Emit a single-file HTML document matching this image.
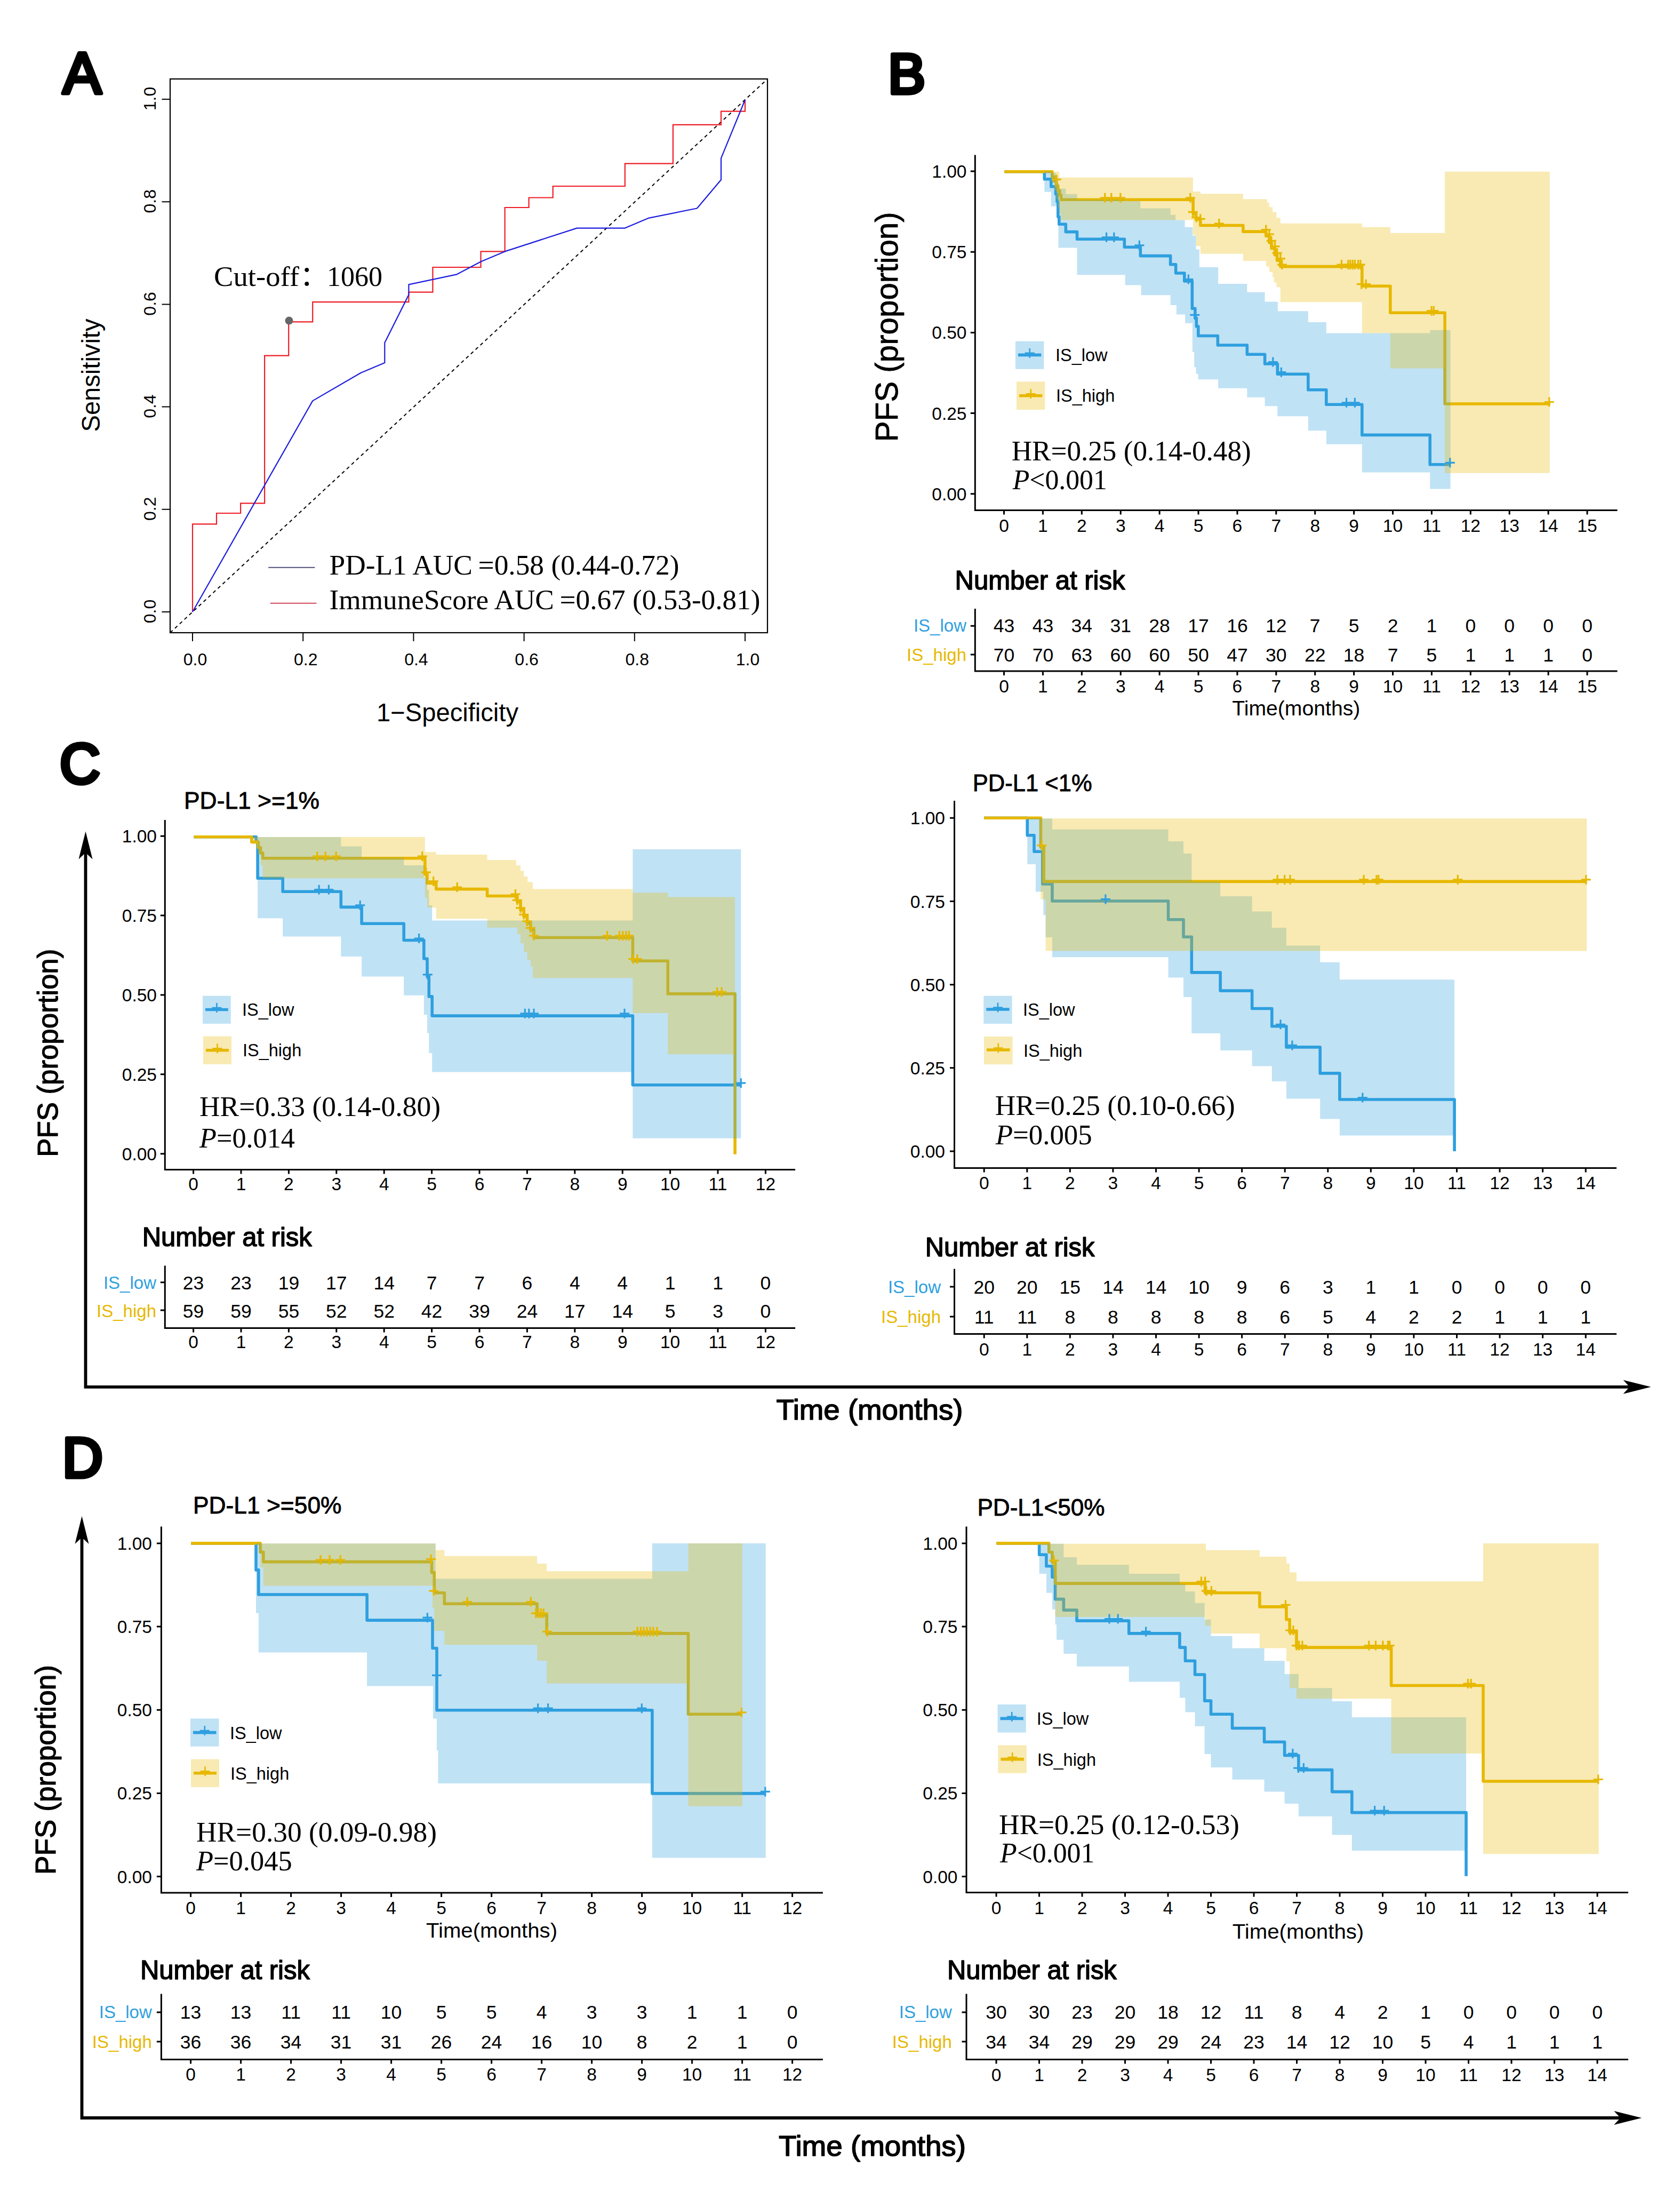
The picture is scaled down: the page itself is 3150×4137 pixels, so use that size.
<!DOCTYPE html>
<html><head><meta charset="utf-8"><title>Figure</title>
<style>html,body{margin:0;padding:0;background:#fff}svg{display:block}</style></head>
<body>
<svg width="3150" height="4137" viewBox="0 0 3150 4137" font-family='"Liberation Sans", sans-serif' fill="#000">
<rect width="3150" height="4137" fill="#fff"/>
<text x="117.5" y="175" font-size="109" stroke="#000" stroke-width="7" stroke-linejoin="round">A</text>
<text x="1665" y="174.5" font-size="105" stroke="#000" stroke-width="7.5" stroke-linejoin="round">B</text>
<text x="112" y="1468" font-size="105" stroke="#000" stroke-width="7.5" stroke-linejoin="round">C</text>
<text x="117" y="2768.5" font-size="105" stroke="#000" stroke-width="7.5" stroke-linejoin="round">D</text>
<rect x="319" y="148" width="1120" height="1038" fill="none" stroke="#000" stroke-width="2.2"/>
<path d="M361 1186v16M319 1147h-15.5M568.2 1186v16M319 954.8h-15.5M775.4 1186v16M319 762.6h-15.5M982.6 1186v16M319 570.4h-15.5M1189.8 1186v16M319 378.2h-15.5M1397 1186v16M319 186h-15.5" stroke="#000" stroke-width="2" fill="none"/>
<text x="366" y="1247" font-size="32" text-anchor="middle">0.0</text>
<text x="292" y="1146" font-size="32" text-anchor="middle" transform="rotate(-90 292 1146)">0.0</text>
<text x="573.2" y="1247" font-size="32" text-anchor="middle">0.2</text>
<text x="292" y="953.8" font-size="32" text-anchor="middle" transform="rotate(-90 292 953.8)">0.2</text>
<text x="780.4" y="1247" font-size="32" text-anchor="middle">0.4</text>
<text x="292" y="761.6" font-size="32" text-anchor="middle" transform="rotate(-90 292 761.6)">0.4</text>
<text x="987.6" y="1247" font-size="32" text-anchor="middle">0.6</text>
<text x="292" y="569.4" font-size="32" text-anchor="middle" transform="rotate(-90 292 569.4)">0.6</text>
<text x="1194.8" y="1247" font-size="32" text-anchor="middle">0.8</text>
<text x="292" y="377.2" font-size="32" text-anchor="middle" transform="rotate(-90 292 377.2)">0.8</text>
<text x="1402" y="1247" font-size="32" text-anchor="middle">1.0</text>
<text x="292" y="185" font-size="32" text-anchor="middle" transform="rotate(-90 292 185)">1.0</text>
<path d="M319 1186L1439 148" stroke="#000" stroke-width="2" stroke-dasharray="6.3 5.9" fill="none"/>
<path d="M361 1147H361V982.4H406V962H451.1V943.3H496.1V666.7H541.2V603.3H586.2V566.2H766.4V547.6H811.4V501H901.5V471.4H946.6V389H991.6V370.5H1036.7V349H1171.8V306.7H1261.9V233.8H1352V208.6H1397V187" stroke="#EE1C25" stroke-width="2.2" fill="none"/>
<path d="M361 1147L586.2 751.4L676.3 699L721.3 680L721.3 642.4L766.4 552.4L766.4 533.3L856.5 514.3L901.5 490.5L946.6 471.4L1081.7 427.6L1171.8 427.6L1216.8 408.6L1306.9 390.5L1352 337L1352 296.7L1397 187" stroke="#1C1CE0" stroke-width="2.2" fill="none" stroke-linejoin="round"/>
<circle cx="542" cy="601" r="7.5" fill="#666"/>
<text y="536" font-size="53" font-family='"Liberation Serif", "Noto Sans CJK SC", serif'><tspan x="401" textLength="160" lengthAdjust="spacingAndGlyphs">Cut-off</tspan><tspan x="562">：</tspan><tspan x="613" textLength="104" lengthAdjust="spacingAndGlyphs">1060</tspan></text>
<path d="M503.2 1063.8L590.4 1063.8" stroke="#50507A" stroke-width="1.9" fill="none"/>
<path d="M506.8 1130.7L593.4 1130.7" stroke="#D0485A" stroke-width="1.9" fill="none"/>
<text x="617.5" y="1077" font-size="53.5" font-family='"Liberation Serif", serif' textLength="656" lengthAdjust="spacingAndGlyphs">PD-L1 AUC =0.58 (0.44-0.72)</text>
<text x="617.5" y="1141.7" font-size="53.5" font-family='"Liberation Serif", serif' textLength="808" lengthAdjust="spacingAndGlyphs">ImmuneScore AUC =0.67 (0.53-0.81)</text>
<text x="839" y="1352" font-size="47.5" text-anchor="middle" textLength="266" lengthAdjust="spacingAndGlyphs">1−Specificity</text>
<text x="187" y="703.5" font-size="47.5" text-anchor="middle" textLength="212" lengthAdjust="spacingAndGlyphs" transform="rotate(-90 187 703.5)">Sensitivity</text>
<path d="M1883.3 321.8H1958.3V335.8H1970.8V349.8H1979.5V363.8H1982V378.1H1983.8V406.2H1985.8V420.3H1998.3V434.6H2019.5V448.3H2108.3V463.3H2138.3V479.6H2194.6V495.8H2204.6V512H2220.8V527H2235.3V578.3H2240.8V595.8H2243.3V611.8H2246.8V629.5H2283.3V647H2338.3V664.3H2371.6V682H2395.3V701.2H2452.8V730.8H2486.8V758.3H2553.8V815.4H2681.2V870.8H2719.6V870.8" stroke="#2E9FDF" stroke-width="5.6" fill="none" stroke-linejoin="round"/>
<path d="M1883.3 321.8H1972.8V331.3H1976.8V339.8H1980.8V348.8H1983.8V357.3H1986.8V365.8H1989.5V374.3H2237.1V400.8H2242.5V411.2H2250.8V422.5H2330.8V434.1H2373.8V442.5H2380V455H2384.1V465.4H2390.4V477.8H2394.6V488.3H2400.8V499.6H2553.8V536.2H2606.8V586.2H2709.1V757H2906.8V757" stroke="#E7B800" stroke-width="5.6" fill="none" stroke-linejoin="round"/>
<path d="M1958.3 321.8H1970.8V323.8H1979.5V330.8H1983.8V343.4H1985.8V353.5H1998.3V363.8H2019.5V374.3H2108.3V376.8H2138.3V390.4H2194.6V402.8H2204.1V412.5H2221.6V425.8H2236.2V441.8H2242.5V467.5H2248.8V500.8H2284.1V532H2338.3V547.8H2371.6V565.4H2395.8V583.3H2452.8V604.1H2486.8V624.5H2681.2V618.8H2719.6V618.8V916.6V916.6H2681.2V885.4H2553.8V832.8H2486.8V807.3H2452.8V780.3H2395.3V761.2H2371.6V744.8H2338.3V727.8H2284.1V711.2H2246.6V700.8H2242.5V688.3H2239.1V659.8H2235.8V605.8H2222.1V589.5H2205.8V572H2194.6V553.3H2139.6V534.5H2109.6V515.3H2019.5V464.6H1984.5V386.8H1970.8V359.8H1958.3V321.8H1958.3Z" fill="#2E9FDF" fill-opacity="0.3"/>
<path d="M1972.8 321.8H1986.2V332.8H2236.8V359.1H2250.8V363.3H2330.8V373.3H2375.8V379.8H2379.8V388.3H2386.2V397.5H2393.3V408.3H2400.8V418.8H2553.8V425.8H2606.8V436.8H2709.1V321.8H2905.8V321.8V886.8V886.8H2709.1V690.4H2606.8V624.5H2553.8V566.2H2400.8V538.3H2393.3V529.8H2388.8V519.8H2386.2V509.8H2379.8V499.6H2373.8V489.1H2330.8V475.8H2250.8V461.2H2242.5V440.4H2236.8V412.5H1989.5V400.8H1986.8V388.8H1983.8V372.8H1980.8V356.8H1976.8V340.8H1972.8V321.8H1972.8Z" fill="#E7B800" fill-opacity="0.3"/>
<path d="M2065.6 444.8h18M2074.6 435.8v18" stroke="#2E9FDF" stroke-width="3.2" fill="none"/>
<path d="M2079.8 444.8h18M2088.8 435.8v18" stroke="#2E9FDF" stroke-width="3.2" fill="none"/>
<path d="M2127.3 459.8h18M2136.3 450.8v18" stroke="#2E9FDF" stroke-width="3.2" fill="none"/>
<path d="M2219.3 523.5h18M2228.3 514.5v18" stroke="#2E9FDF" stroke-width="3.2" fill="none"/>
<path d="M2231.3 590.3h18M2240.3 581.3v18" stroke="#2E9FDF" stroke-width="3.2" fill="none"/>
<path d="M2377.8 678.5h18M2386.8 669.5v18" stroke="#2E9FDF" stroke-width="3.2" fill="none"/>
<path d="M2393.3 697.7h18M2402.3 688.7v18" stroke="#2E9FDF" stroke-width="3.2" fill="none"/>
<path d="M2515.6 754.8h18M2524.6 745.8v18" stroke="#2E9FDF" stroke-width="3.2" fill="none"/>
<path d="M2531.4 754.8h18M2540.4 745.8v18" stroke="#2E9FDF" stroke-width="3.2" fill="none"/>
<path d="M2709.8 867.3h18M2718.8 858.3v18" stroke="#2E9FDF" stroke-width="3.2" fill="none"/>
<path d="M1971.8 336.3h18M1980.8 327.3v18" stroke="#E7B800" stroke-width="3.2" fill="none"/>
<path d="M2062.8 370.8h18M2071.8 361.8v18" stroke="#E7B800" stroke-width="3.2" fill="none"/>
<path d="M2074.8 370.8h18M2083.8 361.8v18" stroke="#E7B800" stroke-width="3.2" fill="none"/>
<path d="M2091.8 370.8h18M2100.8 361.8v18" stroke="#E7B800" stroke-width="3.2" fill="none"/>
<path d="M2222.8 370.8h18M2231.8 361.8v18" stroke="#E7B800" stroke-width="3.2" fill="none"/>
<path d="M2227.8 397.3h18M2236.8 388.3v18" stroke="#E7B800" stroke-width="3.2" fill="none"/>
<path d="M2234.3 407.7h18M2243.3 398.7v18" stroke="#E7B800" stroke-width="3.2" fill="none"/>
<path d="M2241.8 410.3h18M2250.8 401.3v18" stroke="#E7B800" stroke-width="3.2" fill="none"/>
<path d="M2276.8 419h18M2285.8 410v18" stroke="#E7B800" stroke-width="3.2" fill="none"/>
<path d="M2364.8 430.6h18M2373.8 421.6v18" stroke="#E7B800" stroke-width="3.2" fill="none"/>
<path d="M2370.8 439h18M2379.8 430v18" stroke="#E7B800" stroke-width="3.2" fill="none"/>
<path d="M2374.8 451.3h18M2383.8 442.3v18" stroke="#E7B800" stroke-width="3.2" fill="none"/>
<path d="M2381.4 461.9h18M2390.4 452.9v18" stroke="#E7B800" stroke-width="3.2" fill="none"/>
<path d="M2385.6 474.3h18M2394.6 465.3v18" stroke="#E7B800" stroke-width="3.2" fill="none"/>
<path d="M2391.8 484.8h18M2400.8 475.8v18" stroke="#E7B800" stroke-width="3.2" fill="none"/>
<path d="M2394.8 496.1h18M2403.8 487.1v18" stroke="#E7B800" stroke-width="3.2" fill="none"/>
<path d="M2506.4 496.1h18M2515.4 487.1v18" stroke="#E7B800" stroke-width="3.2" fill="none"/>
<path d="M2518.8 496.1h18M2527.8 487.1v18" stroke="#E7B800" stroke-width="3.2" fill="none"/>
<path d="M2522.8 496.1h18M2531.8 487.1v18" stroke="#E7B800" stroke-width="3.2" fill="none"/>
<path d="M2527.2 496.1h18M2536.2 487.1v18" stroke="#E7B800" stroke-width="3.2" fill="none"/>
<path d="M2531.4 496.1h18M2540.4 487.1v18" stroke="#E7B800" stroke-width="3.2" fill="none"/>
<path d="M2537.6 496.1h18M2546.6 487.1v18" stroke="#E7B800" stroke-width="3.2" fill="none"/>
<path d="M2541.8 496.1h18M2550.8 487.1v18" stroke="#E7B800" stroke-width="3.2" fill="none"/>
<path d="M2543.8 532.7h18M2552.8 523.7v18" stroke="#E7B800" stroke-width="3.2" fill="none"/>
<path d="M2552.2 532.7h18M2561.2 523.7v18" stroke="#E7B800" stroke-width="3.2" fill="none"/>
<path d="M2675.1 582.7h18M2684.1 573.7v18" stroke="#E7B800" stroke-width="3.2" fill="none"/>
<path d="M2679.3 582.7h18M2688.3 573.7v18" stroke="#E7B800" stroke-width="3.2" fill="none"/>
<path d="M2895.8 753.5h18M2904.8 744.5v18" stroke="#E7B800" stroke-width="3.2" fill="none"/>
<path d="M1828.3 292V956.5H3031" stroke="#000" stroke-width="3" fill="none" stroke-linecap="square"/>
<path d="M1882.5 956.5v8M1955.4 956.5v8M2028.3 956.5v8M2101.2 956.5v8M2174.1 956.5v8M2247 956.5v8M2319.9 956.5v8M2392.8 956.5v8M2465.7 956.5v8M2538.6 956.5v8M2611.5 956.5v8M2684.4 956.5v8M2757.3 956.5v8M2830.2 956.5v8M2903.1 956.5v8M2976 956.5v8M1828.3 925.8h-8.5M1828.3 774.6h-8.5M1828.3 623.4h-8.5M1828.3 472.2h-8.5M1828.3 321h-8.5" stroke="#000" stroke-width="3" fill="none"/>
<g font-size="33.5" text-anchor="middle">
<text x="1882.5" y="996.5">0</text>
<text x="1955.4" y="996.5">1</text>
<text x="2028.3" y="996.5">2</text>
<text x="2101.2" y="996.5">3</text>
<text x="2174.1" y="996.5">4</text>
<text x="2247" y="996.5">5</text>
<text x="2319.9" y="996.5">6</text>
<text x="2392.8" y="996.5">7</text>
<text x="2465.7" y="996.5">8</text>
<text x="2538.6" y="996.5">9</text>
<text x="2611.5" y="996.5">10</text>
<text x="2684.4" y="996.5">11</text>
<text x="2757.3" y="996.5">12</text>
<text x="2830.2" y="996.5">13</text>
<text x="2903.1" y="996.5">14</text>
<text x="2976" y="996.5">15</text>
</g>
<g font-size="33.5" text-anchor="end">
<text x="1812.5" y="937.8">0.00</text>
<text x="1812.5" y="786.6">0.25</text>
<text x="1812.5" y="635.4">0.50</text>
<text x="1812.5" y="484.2">0.75</text>
<text x="1812.5" y="333">1.00</text>
</g>
<rect x="1904" y="639.6" width="53.3" height="52.2" fill="#2E9FDF" fill-opacity="0.3"/>
<path d="M1909 665.4h43.3" stroke="#2E9FDF" stroke-width="5.6" fill="none"/>
<path d="M1921.7 661.9h18M1930.7 652.9v18" stroke="#2E9FDF" stroke-width="2.6" fill="none"/>
<text x="1979" y="677" font-size="32.5">IS_low</text>
<rect x="1906" y="715.4" width="53.3" height="52.6" fill="#E7B800" fill-opacity="0.3"/>
<path d="M1911 741.7h43.3" stroke="#E7B800" stroke-width="5.6" fill="none"/>
<path d="M1923.7 738.2h18M1932.7 729.2v18" stroke="#E7B800" stroke-width="2.6" fill="none"/>
<text x="1980" y="753" font-size="32.5">IS_high</text>
<text x="1896.7" y="862.5" font-size="53" font-family='"Liberation Serif", serif' textLength="449" lengthAdjust="spacingAndGlyphs">HR=0.25 (0.14-0.48)</text>
<text x="1898.8" y="916.7" font-size="53" font-family='"Liberation Serif", serif' textLength="177" lengthAdjust="spacingAndGlyphs"><tspan font-style="italic">P</tspan>&lt;0.001</text>
<text x="2430.3" y="1341" font-size="39.5" text-anchor="middle" textLength="240" lengthAdjust="spacingAndGlyphs">Time(months)</text>
<text x="1790.5" y="1105" font-size="50" textLength="319" lengthAdjust="spacingAndGlyphs" stroke="#000" stroke-width="1.6" stroke-linejoin="round">Number at risk</text>
<path d="M1828.3 1142.4V1258H3031" stroke="#000" stroke-width="3" fill="none" stroke-linecap="square"/>
<path d="M1882.5 1258v8M1955.4 1258v8M2028.3 1258v8M2101.2 1258v8M2174.1 1258v8M2247 1258v8M2319.9 1258v8M2392.8 1258v8M2465.7 1258v8M2538.6 1258v8M2611.5 1258v8M2684.4 1258v8M2757.3 1258v8M2830.2 1258v8M2903.1 1258v8M2976 1258v8M1828.3 1173.3h-8.5M1828.3 1227h-8.5" stroke="#000" stroke-width="3" fill="none"/>
<text x="1812" y="1184" font-size="33" text-anchor="end" fill="#2E9FDF">IS_low</text>
<text x="1812" y="1238.5" font-size="33" text-anchor="end" fill="#E7B800">IS_high</text>
<g font-size="35.5" text-anchor="middle">
<text x="1882.5" y="1185">43</text>
<text x="1955.4" y="1185">43</text>
<text x="2028.3" y="1185">34</text>
<text x="2101.2" y="1185">31</text>
<text x="2174.1" y="1185">28</text>
<text x="2247" y="1185">17</text>
<text x="2319.9" y="1185">16</text>
<text x="2392.8" y="1185">12</text>
<text x="2465.7" y="1185">7</text>
<text x="2538.6" y="1185">5</text>
<text x="2611.5" y="1185">2</text>
<text x="2684.4" y="1185">1</text>
<text x="2757.3" y="1185">0</text>
<text x="2830.2" y="1185">0</text>
<text x="2903.1" y="1185">0</text>
<text x="2976" y="1185">0</text>
<text x="1882.5" y="1239.5">70</text>
<text x="1955.4" y="1239.5">70</text>
<text x="2028.3" y="1239.5">63</text>
<text x="2101.2" y="1239.5">60</text>
<text x="2174.1" y="1239.5">60</text>
<text x="2247" y="1239.5">50</text>
<text x="2319.9" y="1239.5">47</text>
<text x="2392.8" y="1239.5">30</text>
<text x="2465.7" y="1239.5">22</text>
<text x="2538.6" y="1239.5">18</text>
<text x="2611.5" y="1239.5">7</text>
<text x="2684.4" y="1239.5">5</text>
<text x="2757.3" y="1239.5">1</text>
<text x="2830.2" y="1239.5">1</text>
<text x="2903.1" y="1239.5">1</text>
<text x="2976" y="1239.5">0</text>
</g>
<g font-size="33.5" text-anchor="middle">
<text x="1882.5" y="1297.5">0</text>
<text x="1955.4" y="1297.5">1</text>
<text x="2028.3" y="1297.5">2</text>
<text x="2101.2" y="1297.5">3</text>
<text x="2174.1" y="1297.5">4</text>
<text x="2247" y="1297.5">5</text>
<text x="2319.9" y="1297.5">6</text>
<text x="2392.8" y="1297.5">7</text>
<text x="2465.7" y="1297.5">8</text>
<text x="2538.6" y="1297.5">9</text>
<text x="2611.5" y="1297.5">10</text>
<text x="2684.4" y="1297.5">11</text>
<text x="2757.3" y="1297.5">12</text>
<text x="2830.2" y="1297.5">13</text>
<text x="2903.1" y="1297.5">14</text>
<text x="2976" y="1297.5">15</text>
</g>
<text x="1683" y="612.8" font-size="60" text-anchor="middle" textLength="431" lengthAdjust="spacingAndGlyphs" transform="rotate(-90 1683 612.8)" stroke="#000" stroke-width="0.8" stroke-linejoin="round">PFS (proportion)</text>
<path d="M363.5 1568.7H480.2V1578.3H483.1V1646.2H530.2V1671.2H639.3V1700.4H678.1V1731.2H757.2V1762.5H794.8V1797H801V1830.4H804.3V1867.9H810.2V1904.1H1186.4V2033.7H1389.3V2033.7" stroke="#2E9FDF" stroke-width="5.6" fill="none" stroke-linejoin="round"/>
<path d="M363.5 1568.7H471.8V1578.3H484.3V1588.7H488.5V1599.1H492.7V1608.7H796.8V1638.7H801V1655.4H817.7V1666.6H913.5V1679.5H969.8V1690.8H976V1705.4H982.2V1717.9H988.5V1730.4H994.8V1742.9H1001V1757.5H1186.4V1801.2H1252.2V1862.9H1378.1V2163.7" stroke="#E7B800" stroke-width="5.6" fill="none" stroke-linejoin="round"/>
<path d="M480.2 1569.1H639.3V1586.6H678.1V1607.5H757.2V1622H794.8V1645H801V1667.9H804.3V1697H810.2V1725.4H1186.4V1592H1389.3V1592V2133.7V2133.7H1186.4V2009.5H810.2V1974.1H804.3V1936.6H801V1902H794.8V1865.8H757.2V1830.4H678.1V1792.9H639.3V1755.4H530.2V1721.2H483.1V1569.1H483.1Z" fill="#2E9FDF" fill-opacity="0.3"/>
<path d="M471.8 1569.1H796.8V1597H817.7V1602H913.5V1612H967.7V1622H976V1632.5H982.2V1642.9H989.3V1653.3H998.9V1666.6H1186.4V1673.3H1252.2V1681.6H1378.1V1681.6V1976.2V1976.2H1252.2V1899.1H1186.4V1833.3H998.9V1811.6H994.8V1799.1H988.5V1784.5H982.2V1767.9H976V1751.2H969.8V1738.7H913.5V1722H817.7V1701.2H801V1682.5H796.8V1646.2H492.7V1622H488.5V1601.2H484.3V1582.5H471.8V1569.1H471.8Z" fill="#E7B800" fill-opacity="0.3"/>
<path d="M589.1 1667.7h18M598.1 1658.7v18" stroke="#2E9FDF" stroke-width="3.2" fill="none"/>
<path d="M607.4 1667.7h18M616.4 1658.7v18" stroke="#2E9FDF" stroke-width="3.2" fill="none"/>
<path d="M666.2 1696.9h18M675.2 1687.9v18" stroke="#2E9FDF" stroke-width="3.2" fill="none"/>
<path d="M776.6 1759h18M785.6 1750v18" stroke="#2E9FDF" stroke-width="3.2" fill="none"/>
<path d="M792.8 1826.9h18M801.8 1817.9v18" stroke="#2E9FDF" stroke-width="3.2" fill="none"/>
<path d="M975.3 1899.8h18M984.3 1890.8v18" stroke="#2E9FDF" stroke-width="3.2" fill="none"/>
<path d="M982.8 1899.8h18M991.8 1890.8v18" stroke="#2E9FDF" stroke-width="3.2" fill="none"/>
<path d="M992 1899.8h18M1001 1890.8v18" stroke="#2E9FDF" stroke-width="3.2" fill="none"/>
<path d="M1162 1899.8h18M1171 1890.8v18" stroke="#2E9FDF" stroke-width="3.2" fill="none"/>
<path d="M1380.3 2030.2h18M1389.3 2021.2v18" stroke="#2E9FDF" stroke-width="3.2" fill="none"/>
<path d="M585.8 1605.2h18M594.8 1596.2v18" stroke="#E7B800" stroke-width="3.2" fill="none"/>
<path d="M601.2 1605.2h18M610.2 1596.2v18" stroke="#E7B800" stroke-width="3.2" fill="none"/>
<path d="M621.2 1605.2h18M630.2 1596.2v18" stroke="#E7B800" stroke-width="3.2" fill="none"/>
<path d="M782.8 1605.2h18M791.8 1596.2v18" stroke="#E7B800" stroke-width="3.2" fill="none"/>
<path d="M789.9 1635.2h18M798.9 1626.2v18" stroke="#E7B800" stroke-width="3.2" fill="none"/>
<path d="M803.7 1651.9h18M812.7 1642.9v18" stroke="#E7B800" stroke-width="3.2" fill="none"/>
<path d="M848.2 1663.1h18M857.2 1654.1v18" stroke="#E7B800" stroke-width="3.2" fill="none"/>
<path d="M957.4 1676h18M966.4 1667v18" stroke="#E7B800" stroke-width="3.2" fill="none"/>
<path d="M960.8 1687.3h18M969.8 1678.3v18" stroke="#E7B800" stroke-width="3.2" fill="none"/>
<path d="M967 1701.9h18M976 1692.9v18" stroke="#E7B800" stroke-width="3.2" fill="none"/>
<path d="M973.2 1714.4h18M982.2 1705.4v18" stroke="#E7B800" stroke-width="3.2" fill="none"/>
<path d="M979.5 1726.9h18M988.5 1717.9v18" stroke="#E7B800" stroke-width="3.2" fill="none"/>
<path d="M985.8 1739.4h18M994.8 1730.4v18" stroke="#E7B800" stroke-width="3.2" fill="none"/>
<path d="M992 1754h18M1001 1745v18" stroke="#E7B800" stroke-width="3.2" fill="none"/>
<path d="M1129.5 1754h18M1138.5 1745v18" stroke="#E7B800" stroke-width="3.2" fill="none"/>
<path d="M1152.4 1754h18M1161.4 1745v18" stroke="#E7B800" stroke-width="3.2" fill="none"/>
<path d="M1158.7 1754h18M1167.7 1745v18" stroke="#E7B800" stroke-width="3.2" fill="none"/>
<path d="M1164.9 1754h18M1173.9 1745v18" stroke="#E7B800" stroke-width="3.2" fill="none"/>
<path d="M1170.3 1754h18M1179.3 1745v18" stroke="#E7B800" stroke-width="3.2" fill="none"/>
<path d="M1178.2 1797.7h18M1187.2 1788.7v18" stroke="#E7B800" stroke-width="3.2" fill="none"/>
<path d="M1185.8 1797.7h18M1194.8 1788.7v18" stroke="#E7B800" stroke-width="3.2" fill="none"/>
<path d="M1335.8 1859.4h18M1344.8 1850.4v18" stroke="#E7B800" stroke-width="3.2" fill="none"/>
<path d="M1344.1 1859.4h18M1353.1 1850.4v18" stroke="#E7B800" stroke-width="3.2" fill="none"/>
<path d="M309.3 1538.6V2192.5H1489.6" stroke="#000" stroke-width="3" fill="none" stroke-linecap="square"/>
<path d="M362.6 2192.5v8M452 2192.5v8M541.4 2192.5v8M630.8 2192.5v8M720.2 2192.5v8M809.6 2192.5v8M899 2192.5v8M988.4 2192.5v8M1077.8 2192.5v8M1167.2 2192.5v8M1256.6 2192.5v8M1346 2192.5v8M1435.4 2192.5v8M309.3 2162.7h-8.5M309.3 2013.8h-8.5M309.3 1865h-8.5M309.3 1716.1h-8.5M309.3 1567.3h-8.5" stroke="#000" stroke-width="3" fill="none"/>
<g font-size="33.5" text-anchor="middle">
<text x="362.6" y="2230.5">0</text>
<text x="452" y="2230.5">1</text>
<text x="541.4" y="2230.5">2</text>
<text x="630.8" y="2230.5">3</text>
<text x="720.2" y="2230.5">4</text>
<text x="809.6" y="2230.5">5</text>
<text x="899" y="2230.5">6</text>
<text x="988.4" y="2230.5">7</text>
<text x="1077.8" y="2230.5">8</text>
<text x="1167.2" y="2230.5">9</text>
<text x="1256.6" y="2230.5">10</text>
<text x="1346" y="2230.5">11</text>
<text x="1435.4" y="2230.5">12</text>
</g>
<g font-size="33.5" text-anchor="end">
<text x="294" y="2174.7">0.00</text>
<text x="294" y="2025.8">0.25</text>
<text x="294" y="1877">0.50</text>
<text x="294" y="1728.1">0.75</text>
<text x="294" y="1579.3">1.00</text>
</g>
<rect x="380" y="1866.7" width="52.7" height="52.2" fill="#2E9FDF" fill-opacity="0.3"/>
<path d="M385 1892.5h42.7" stroke="#2E9FDF" stroke-width="5.6" fill="none"/>
<path d="M397.4 1889h18M406.4 1880v18" stroke="#2E9FDF" stroke-width="2.6" fill="none"/>
<text x="454" y="1903.5" font-size="32.5">IS_low</text>
<rect x="381" y="1942.5" width="53" height="52.5" fill="#E7B800" fill-opacity="0.3"/>
<path d="M386 1968.8h43" stroke="#E7B800" stroke-width="5.6" fill="none"/>
<path d="M398.5 1965.2h18M407.5 1956.2v18" stroke="#E7B800" stroke-width="2.6" fill="none"/>
<text x="455" y="1980" font-size="32.5">IS_high</text>
<text x="374" y="2091.7" font-size="53" font-family='"Liberation Serif", serif' textLength="452" lengthAdjust="spacingAndGlyphs">HR=0.33 (0.14-0.80)</text>
<text x="374" y="2150.8" font-size="53" font-family='"Liberation Serif", serif' textLength="179" lengthAdjust="spacingAndGlyphs"><tspan font-style="italic">P</tspan>=0.014</text>
<text x="345" y="1515.7" font-size="45" textLength="254" lengthAdjust="spacingAndGlyphs" stroke="#000" stroke-width="0.9" stroke-linejoin="round">PD-L1 &gt;=1%</text>
<text x="266.7" y="2336" font-size="50" textLength="318" lengthAdjust="spacingAndGlyphs" stroke="#000" stroke-width="1.6" stroke-linejoin="round">Number at risk</text>
<path d="M309.3 2374V2489.5H1489.6" stroke="#000" stroke-width="3" fill="none" stroke-linecap="square"/>
<path d="M362.6 2489.5v8M452 2489.5v8M541.4 2489.5v8M630.8 2489.5v8M720.2 2489.5v8M809.6 2489.5v8M899 2489.5v8M988.4 2489.5v8M1077.8 2489.5v8M1167.2 2489.5v8M1256.6 2489.5v8M1346 2489.5v8M1435.4 2489.5v8M309.3 2403.8h-8.5M309.3 2456h-8.5" stroke="#000" stroke-width="3" fill="none"/>
<text x="293" y="2415.7" font-size="33" text-anchor="end" fill="#2E9FDF">IS_low</text>
<text x="293" y="2468.5" font-size="33" text-anchor="end" fill="#E7B800">IS_high</text>
<g font-size="35.5" text-anchor="middle">
<text x="362.6" y="2416.7">23</text>
<text x="452" y="2416.7">23</text>
<text x="541.4" y="2416.7">19</text>
<text x="630.8" y="2416.7">17</text>
<text x="720.2" y="2416.7">14</text>
<text x="809.6" y="2416.7">7</text>
<text x="899" y="2416.7">7</text>
<text x="988.4" y="2416.7">6</text>
<text x="1077.8" y="2416.7">4</text>
<text x="1167.2" y="2416.7">4</text>
<text x="1256.6" y="2416.7">1</text>
<text x="1346" y="2416.7">1</text>
<text x="1435.4" y="2416.7">0</text>
<text x="362.6" y="2469.5">59</text>
<text x="452" y="2469.5">59</text>
<text x="541.4" y="2469.5">55</text>
<text x="630.8" y="2469.5">52</text>
<text x="720.2" y="2469.5">52</text>
<text x="809.6" y="2469.5">42</text>
<text x="899" y="2469.5">39</text>
<text x="988.4" y="2469.5">24</text>
<text x="1077.8" y="2469.5">17</text>
<text x="1167.2" y="2469.5">14</text>
<text x="1256.6" y="2469.5">5</text>
<text x="1346" y="2469.5">3</text>
<text x="1435.4" y="2469.5">0</text>
</g>
<g font-size="33.5" text-anchor="middle">
<text x="362.6" y="2527">0</text>
<text x="452" y="2527">1</text>
<text x="541.4" y="2527">2</text>
<text x="630.8" y="2527">3</text>
<text x="720.2" y="2527">4</text>
<text x="809.6" y="2527">5</text>
<text x="899" y="2527">6</text>
<text x="988.4" y="2527">7</text>
<text x="1077.8" y="2527">8</text>
<text x="1167.2" y="2527">9</text>
<text x="1256.6" y="2527">10</text>
<text x="1346" y="2527">11</text>
<text x="1435.4" y="2527">12</text>
</g>
<path d="M1845.2 1533.3H1926.2V1565.7H1939V1596.2H1954.8V1657.1H1972.9V1689H2190.5V1723.8H2219V1756.2H2234.3V1822.9H2288.1V1857.1H2347.6V1890.5H2384.8V1923.8H2411.9V1962.9H2475.2V2011.9H2511.9V2061H2727.1V2158.1" stroke="#2E9FDF" stroke-width="5.6" fill="none" stroke-linejoin="round"/>
<path d="M1845.2 1533.3H1951.4V1588.1H1957.1V1652.4H2975.2V1652.4" stroke="#E7B800" stroke-width="5.6" fill="none" stroke-linejoin="round"/>
<path d="M1926.2 1534.3H1972.9V1554.8H2190.5V1577.1H2219V1600H2234.3V1652.4H2288.1V1680H2347.6V1708.6H2384.8V1739H2411.9V1772.4H2475.2V1803.8H2511.9V1836.2H2727.1V1836.2V2128.6V2128.6H2511.9V2097.6H2475.2V2059.5H2411.9V2027.1H2384.8V1998.6H2347.6V1969H2288.1V1937.1H2234.3V1869H2219V1832.4H2190.5V1794.3H1972.9V1757.1H1960.5V1715.2H1956.2V1671.4H1941.9V1620H1926.2V1534.3H1926.2Z" fill="#2E9FDF" fill-opacity="0.3"/>
<path d="M1951.4 1534.3H2975.2V1534.3V1782.4V1782.4H1960.5V1685.7H1951.4V1534.3H1951.4Z" fill="#E7B800" fill-opacity="0.3"/>
<path d="M2063.9 1685.5h18M2072.9 1676.5v18" stroke="#2E9FDF" stroke-width="3.2" fill="none"/>
<path d="M2392 1920.3h18M2401 1911.3v18" stroke="#2E9FDF" stroke-width="3.2" fill="none"/>
<path d="M2413.9 1959.4h18M2422.9 1950.4v18" stroke="#2E9FDF" stroke-width="3.2" fill="none"/>
<path d="M2545.8 2057.5h18M2554.8 2048.5v18" stroke="#2E9FDF" stroke-width="3.2" fill="none"/>
<path d="M1944.3 1584.6h18M1953.3 1575.6v18" stroke="#E7B800" stroke-width="3.2" fill="none"/>
<path d="M2386.2 1648.9h18M2395.2 1639.9v18" stroke="#E7B800" stroke-width="3.2" fill="none"/>
<path d="M2399.6 1648.9h18M2408.6 1639.9v18" stroke="#E7B800" stroke-width="3.2" fill="none"/>
<path d="M2410 1648.9h18M2419 1639.9v18" stroke="#E7B800" stroke-width="3.2" fill="none"/>
<path d="M2548.1 1648.9h18M2557.1 1639.9v18" stroke="#E7B800" stroke-width="3.2" fill="none"/>
<path d="M2572 1648.9h18M2581 1639.9v18" stroke="#E7B800" stroke-width="3.2" fill="none"/>
<path d="M2575.8 1648.9h18M2584.8 1639.9v18" stroke="#E7B800" stroke-width="3.2" fill="none"/>
<path d="M2724.3 1648.9h18M2733.3 1639.9v18" stroke="#E7B800" stroke-width="3.2" fill="none"/>
<path d="M2964.8 1648.9h18M2973.8 1639.9v18" stroke="#E7B800" stroke-width="3.2" fill="none"/>
<path d="M1789.5 1502.4V2189.5H3029.5" stroke="#000" stroke-width="3" fill="none" stroke-linecap="square"/>
<path d="M1845.2 2189.5v8M1925.8 2189.5v8M2006.3 2189.5v8M2086.9 2189.5v8M2167.5 2189.5v8M2248.1 2189.5v8M2328.6 2189.5v8M2409.2 2189.5v8M2489.8 2189.5v8M2570.3 2189.5v8M2650.9 2189.5v8M2731.5 2189.5v8M2812 2189.5v8M2892.6 2189.5v8M2973.2 2189.5v8M1789.5 2158h-8.5M1789.5 2001.8h-8.5M1789.5 1845.7h-8.5M1789.5 1689.5h-8.5M1789.5 1533.3h-8.5" stroke="#000" stroke-width="3" fill="none"/>
<g font-size="33.5" text-anchor="middle">
<text x="1845.2" y="2229">0</text>
<text x="1925.8" y="2229">1</text>
<text x="2006.3" y="2229">2</text>
<text x="2086.9" y="2229">3</text>
<text x="2167.5" y="2229">4</text>
<text x="2248.1" y="2229">5</text>
<text x="2328.6" y="2229">6</text>
<text x="2409.2" y="2229">7</text>
<text x="2489.8" y="2229">8</text>
<text x="2570.3" y="2229">9</text>
<text x="2650.9" y="2229">10</text>
<text x="2731.5" y="2229">11</text>
<text x="2812" y="2229">12</text>
<text x="2892.6" y="2229">13</text>
<text x="2973.2" y="2229">14</text>
</g>
<g font-size="33.5" text-anchor="end">
<text x="1772" y="2170">0.00</text>
<text x="1772" y="2013.8">0.25</text>
<text x="1772" y="1857.7">0.50</text>
<text x="1772" y="1701.5">0.75</text>
<text x="1772" y="1545.3">1.00</text>
</g>
<rect x="1844.3" y="1866.7" width="53.3" height="52.3" fill="#2E9FDF" fill-opacity="0.3"/>
<path d="M1849.3 1892h43.3" stroke="#2E9FDF" stroke-width="5.6" fill="none"/>
<path d="M1862 1888.5h18M1871 1879.5v18" stroke="#2E9FDF" stroke-width="2.6" fill="none"/>
<text x="1918" y="1903.8" font-size="32.5">IS_low</text>
<rect x="1845" y="1943" width="53.6" height="52.2" fill="#E7B800" fill-opacity="0.3"/>
<path d="M1850 1968h43.6" stroke="#E7B800" stroke-width="5.6" fill="none"/>
<path d="M1862.8 1964.5h18M1871.8 1955.5v18" stroke="#E7B800" stroke-width="2.6" fill="none"/>
<text x="1919" y="1981" font-size="32.5">IS_high</text>
<text x="1865.7" y="2089.5" font-size="53" font-family='"Liberation Serif", serif' textLength="450" lengthAdjust="spacingAndGlyphs">HR=0.25 (0.10-0.66)</text>
<text x="1866.7" y="2145" font-size="53" font-family='"Liberation Serif", serif' textLength="181" lengthAdjust="spacingAndGlyphs"><tspan font-style="italic">P</tspan>=0.005</text>
<text x="1823.8" y="1483.3" font-size="45" textLength="223.8" lengthAdjust="spacingAndGlyphs" stroke="#000" stroke-width="0.9" stroke-linejoin="round">PD-L1 &lt;1%</text>
<text x="1734.8" y="2354.8" font-size="50" textLength="317.6" lengthAdjust="spacingAndGlyphs" stroke="#000" stroke-width="1.6" stroke-linejoin="round">Number at risk</text>
<path d="M1789.5 2380V2500.5H3029.5" stroke="#000" stroke-width="3" fill="none" stroke-linecap="square"/>
<path d="M1845.2 2500.5v8M1925.8 2500.5v8M2006.3 2500.5v8M2086.9 2500.5v8M2167.5 2500.5v8M2248.1 2500.5v8M2328.6 2500.5v8M2409.2 2500.5v8M2489.8 2500.5v8M2570.3 2500.5v8M2650.9 2500.5v8M2731.5 2500.5v8M2812 2500.5v8M2892.6 2500.5v8M2973.2 2500.5v8M1789.5 2412h-8.5M1789.5 2468h-8.5" stroke="#000" stroke-width="3" fill="none"/>
<text x="1764" y="2424" font-size="33" text-anchor="end" fill="#2E9FDF">IS_low</text>
<text x="1764" y="2480" font-size="33" text-anchor="end" fill="#E7B800">IS_high</text>
<g font-size="35.5" text-anchor="middle">
<text x="1845.2" y="2425">20</text>
<text x="1925.8" y="2425">20</text>
<text x="2006.3" y="2425">15</text>
<text x="2086.9" y="2425">14</text>
<text x="2167.5" y="2425">14</text>
<text x="2248.1" y="2425">10</text>
<text x="2328.6" y="2425">9</text>
<text x="2409.2" y="2425">6</text>
<text x="2489.8" y="2425">3</text>
<text x="2570.3" y="2425">1</text>
<text x="2650.9" y="2425">1</text>
<text x="2731.5" y="2425">0</text>
<text x="2812" y="2425">0</text>
<text x="2892.6" y="2425">0</text>
<text x="2973.2" y="2425">0</text>
<text x="1845.2" y="2481">11</text>
<text x="1925.8" y="2481">11</text>
<text x="2006.3" y="2481">8</text>
<text x="2086.9" y="2481">8</text>
<text x="2167.5" y="2481">8</text>
<text x="2248.1" y="2481">8</text>
<text x="2328.6" y="2481">8</text>
<text x="2409.2" y="2481">6</text>
<text x="2489.8" y="2481">5</text>
<text x="2570.3" y="2481">4</text>
<text x="2650.9" y="2481">2</text>
<text x="2731.5" y="2481">2</text>
<text x="2812" y="2481">1</text>
<text x="2892.6" y="2481">1</text>
<text x="2973.2" y="2481">1</text>
</g>
<g font-size="33.5" text-anchor="middle">
<text x="1845.2" y="2541">0</text>
<text x="1925.8" y="2541">1</text>
<text x="2006.3" y="2541">2</text>
<text x="2086.9" y="2541">3</text>
<text x="2167.5" y="2541">4</text>
<text x="2248.1" y="2541">5</text>
<text x="2328.6" y="2541">6</text>
<text x="2409.2" y="2541">7</text>
<text x="2489.8" y="2541">8</text>
<text x="2570.3" y="2541">9</text>
<text x="2650.9" y="2541">10</text>
<text x="2731.5" y="2541">11</text>
<text x="2812" y="2541">12</text>
<text x="2892.6" y="2541">13</text>
<text x="2973.2" y="2541">14</text>
</g>
<path d="M358.1 2892.9H480V2942.9H484.8V2989H688.1V3037.1H811V3089.5H819V3205.7H1222.9V3361.9H1435.7V3361.9" stroke="#2E9FDF" stroke-width="5.6" fill="none" stroke-linejoin="round"/>
<path d="M358.1 2892.9H488.1V2909.5H493.8V2927.6H809.5V2947.6H814.3V2985.7H833.3V3006.2H1007.1V3027.6H1025.2V3061.9H1290.5V3213.3H1391.9V3213.3" stroke="#E7B800" stroke-width="5.6" fill="none" stroke-linejoin="round"/>
<path d="M480 2893.3H816.7V2959.5H1222.9V2892.9H1435.7V2892.9V3482.4V3482.4H1222.9V3342.9H821.4V3281H819V3221.4H811.9V3160.5H688.1V3097.6H484.8V3023.8H480V2893.3H480Z" fill="#2E9FDF" fill-opacity="0.3"/>
<path d="M488.1 2893.3H816.7V2905.7H833.3V2916.7H1007.1V2931H1025.2V2945.2H1290.5V2892.9H1391.9V2892.9V3385.7V3385.7H1290.5V3155.7H1025.2V3112.9H1007.1V3083.3H833.3V3057.1H814.3V3014.3H811V2972.4H493.8V2938.1H488.1V2893.3H488.1Z" fill="#E7B800" fill-opacity="0.3"/>
<path d="M792.4 3032.2h18M801.4 3023.2v18" stroke="#2E9FDF" stroke-width="3.2" fill="none"/>
<path d="M810 3140.3h18M819 3131.3v18" stroke="#2E9FDF" stroke-width="3.2" fill="none"/>
<path d="M999.6 3202.2h18M1008.6 3193.2v18" stroke="#2E9FDF" stroke-width="3.2" fill="none"/>
<path d="M1018.6 3202.2h18M1027.6 3193.2v18" stroke="#2E9FDF" stroke-width="3.2" fill="none"/>
<path d="M1194.3 3202.2h18M1203.3 3193.2v18" stroke="#2E9FDF" stroke-width="3.2" fill="none"/>
<path d="M1425.8 3358.4h18M1434.8 3349.4v18" stroke="#2E9FDF" stroke-width="3.2" fill="none"/>
<path d="M592 2924.1h18M601 2915.1v18" stroke="#E7B800" stroke-width="3.2" fill="none"/>
<path d="M609.1 2924.1h18M618.1 2915.1v18" stroke="#E7B800" stroke-width="3.2" fill="none"/>
<path d="M629.1 2924.1h18M638.1 2915.1v18" stroke="#E7B800" stroke-width="3.2" fill="none"/>
<path d="M799.1 2922.7h18M808.1 2913.7v18" stroke="#E7B800" stroke-width="3.2" fill="none"/>
<path d="M804.3 2982.2h18M813.3 2973.2v18" stroke="#E7B800" stroke-width="3.2" fill="none"/>
<path d="M867.2 3002.7h18M876.2 2993.7v18" stroke="#E7B800" stroke-width="3.2" fill="none"/>
<path d="M986.2 3002.7h18M995.2 2993.7v18" stroke="#E7B800" stroke-width="3.2" fill="none"/>
<path d="M995.8 3024.1h18M1004.8 3015.1v18" stroke="#E7B800" stroke-width="3.2" fill="none"/>
<path d="M1000.5 3024.1h18M1009.5 3015.1v18" stroke="#E7B800" stroke-width="3.2" fill="none"/>
<path d="M1005.3 3024.1h18M1014.3 3015.1v18" stroke="#E7B800" stroke-width="3.2" fill="none"/>
<path d="M1010 3024.1h18M1019 3015.1v18" stroke="#E7B800" stroke-width="3.2" fill="none"/>
<path d="M1017.2 3058.4h18M1026.2 3049.4v18" stroke="#E7B800" stroke-width="3.2" fill="none"/>
<path d="M1186.2 3058.4h18M1195.2 3049.4v18" stroke="#E7B800" stroke-width="3.2" fill="none"/>
<path d="M1192.4 3058.4h18M1201.4 3049.4v18" stroke="#E7B800" stroke-width="3.2" fill="none"/>
<path d="M1198.1 3058.4h18M1207.1 3049.4v18" stroke="#E7B800" stroke-width="3.2" fill="none"/>
<path d="M1203.9 3058.4h18M1212.9 3049.4v18" stroke="#E7B800" stroke-width="3.2" fill="none"/>
<path d="M1210 3058.4h18M1219 3049.4v18" stroke="#E7B800" stroke-width="3.2" fill="none"/>
<path d="M1215.8 3058.4h18M1224.8 3049.4v18" stroke="#E7B800" stroke-width="3.2" fill="none"/>
<path d="M1222.9 3058.4h18M1231.9 3049.4v18" stroke="#E7B800" stroke-width="3.2" fill="none"/>
<path d="M1381.5 3209.8h18M1390.5 3200.8v18" stroke="#E7B800" stroke-width="3.2" fill="none"/>
<path d="M302.4 2863V3548H1541.4" stroke="#000" stroke-width="3" fill="none" stroke-linecap="square"/>
<path d="M357.6 3548v8M451.6 3548v8M545.6 3548v8M639.6 3548v8M733.6 3548v8M827.6 3548v8M921.6 3548v8M1015.6 3548v8M1109.6 3548v8M1203.6 3548v8M1297.6 3548v8M1391.6 3548v8M1485.6 3548v8M302.4 3517.6h-8.5M302.4 3361.4h-8.5M302.4 3205.2h-8.5M302.4 3049.1h-8.5M302.4 2892.9h-8.5" stroke="#000" stroke-width="3" fill="none"/>
<g font-size="33.5" text-anchor="middle">
<text x="357.6" y="3588">0</text>
<text x="451.6" y="3588">1</text>
<text x="545.6" y="3588">2</text>
<text x="639.6" y="3588">3</text>
<text x="733.6" y="3588">4</text>
<text x="827.6" y="3588">5</text>
<text x="921.6" y="3588">6</text>
<text x="1015.6" y="3588">7</text>
<text x="1109.6" y="3588">8</text>
<text x="1203.6" y="3588">9</text>
<text x="1297.6" y="3588">10</text>
<text x="1391.6" y="3588">11</text>
<text x="1485.6" y="3588">12</text>
</g>
<g font-size="33.5" text-anchor="end">
<text x="285" y="3529.6">0.00</text>
<text x="285" y="3373.4">0.25</text>
<text x="285" y="3217.2">0.50</text>
<text x="285" y="3061.1">0.75</text>
<text x="285" y="2904.9">1.00</text>
</g>
<rect x="357" y="3221.4" width="53.5" height="52.4" fill="#2E9FDF" fill-opacity="0.3"/>
<path d="M362 3247.6h43.5" stroke="#2E9FDF" stroke-width="5.6" fill="none"/>
<path d="M374.8 3244.1h18M383.8 3235.1v18" stroke="#2E9FDF" stroke-width="2.6" fill="none"/>
<text x="431" y="3259.5" font-size="32.5">IS_low</text>
<rect x="358" y="3297.6" width="53" height="52.4" fill="#E7B800" fill-opacity="0.3"/>
<path d="M363 3323.8h43" stroke="#E7B800" stroke-width="5.6" fill="none"/>
<path d="M375.5 3320.3h18M384.5 3311.3v18" stroke="#E7B800" stroke-width="2.6" fill="none"/>
<text x="432" y="3335.7" font-size="32.5">IS_high</text>
<text x="368" y="3452.4" font-size="53" font-family='"Liberation Serif", serif' textLength="451" lengthAdjust="spacingAndGlyphs">HR=0.30 (0.09-0.98)</text>
<text x="368" y="3505.7" font-size="53" font-family='"Liberation Serif", serif' textLength="179.6" lengthAdjust="spacingAndGlyphs"><tspan font-style="italic">P</tspan>=0.045</text>
<text x="362" y="2837" font-size="45" textLength="278.5" lengthAdjust="spacingAndGlyphs" stroke="#000" stroke-width="0.9" stroke-linejoin="round">PD-L1 &gt;=50%</text>
<text x="922" y="3631.5" font-size="39.5" text-anchor="middle" textLength="246" lengthAdjust="spacingAndGlyphs">Time(months)</text>
<text x="262.9" y="3710" font-size="50" textLength="318" lengthAdjust="spacingAndGlyphs" stroke="#000" stroke-width="1.6" stroke-linejoin="round">Number at risk</text>
<path d="M302.4 3739V3860.5H1541.4" stroke="#000" stroke-width="3" fill="none" stroke-linecap="square"/>
<path d="M357.6 3860.5v8M451.6 3860.5v8M545.6 3860.5v8M639.6 3860.5v8M733.6 3860.5v8M827.6 3860.5v8M921.6 3860.5v8M1015.6 3860.5v8M1109.6 3860.5v8M1203.6 3860.5v8M1297.6 3860.5v8M1391.6 3860.5v8M1485.6 3860.5v8M302.4 3772h-8.5M302.4 3827h-8.5" stroke="#000" stroke-width="3" fill="none"/>
<text x="284.8" y="3782.8" font-size="33" text-anchor="end" fill="#2E9FDF">IS_low</text>
<text x="284.8" y="3838.5" font-size="33" text-anchor="end" fill="#E7B800">IS_high</text>
<g font-size="35.5" text-anchor="middle">
<text x="357.6" y="3783.8">13</text>
<text x="451.6" y="3783.8">13</text>
<text x="545.6" y="3783.8">11</text>
<text x="639.6" y="3783.8">11</text>
<text x="733.6" y="3783.8">10</text>
<text x="827.6" y="3783.8">5</text>
<text x="921.6" y="3783.8">5</text>
<text x="1015.6" y="3783.8">4</text>
<text x="1109.6" y="3783.8">3</text>
<text x="1203.6" y="3783.8">3</text>
<text x="1297.6" y="3783.8">1</text>
<text x="1391.6" y="3783.8">1</text>
<text x="1485.6" y="3783.8">0</text>
<text x="357.6" y="3839.5">36</text>
<text x="451.6" y="3839.5">36</text>
<text x="545.6" y="3839.5">34</text>
<text x="639.6" y="3839.5">31</text>
<text x="733.6" y="3839.5">31</text>
<text x="827.6" y="3839.5">26</text>
<text x="921.6" y="3839.5">24</text>
<text x="1015.6" y="3839.5">16</text>
<text x="1109.6" y="3839.5">10</text>
<text x="1203.6" y="3839.5">8</text>
<text x="1297.6" y="3839.5">2</text>
<text x="1391.6" y="3839.5">1</text>
<text x="1485.6" y="3839.5">0</text>
</g>
<g font-size="33.5" text-anchor="middle">
<text x="357.6" y="3900">0</text>
<text x="451.6" y="3900">1</text>
<text x="545.6" y="3900">2</text>
<text x="639.6" y="3900">3</text>
<text x="733.6" y="3900">4</text>
<text x="827.6" y="3900">5</text>
<text x="921.6" y="3900">6</text>
<text x="1015.6" y="3900">7</text>
<text x="1109.6" y="3900">8</text>
<text x="1203.6" y="3900">9</text>
<text x="1297.6" y="3900">10</text>
<text x="1391.6" y="3900">11</text>
<text x="1485.6" y="3900">12</text>
</g>
<path d="M1868.1 2892.9H1948.6V2914.3H1961.9V2935.7H1972.9V2956.2H1978.6V2997.6H1994.3V3018.1H2019V3038.1H2116.7V3061.9H2211.9V3088.1H2222.4V3113.3H2240.5V3139H2258.6V3188.1H2270.5V3213.3H2310.5V3239.5H2370.5V3265.2H2408.6V3290.5H2434.8V3317.6H2497.6V3358.6H2534.8V3397.6H2749V3516.7" stroke="#2E9FDF" stroke-width="5.6" fill="none" stroke-linejoin="round"/>
<path d="M1868.1 2892.9H1966.7V2909.5H1972.9V2928.6H1978.6V2968.1H2259.5V2985.7H2361.9V3011.9H2411.9V3035.7H2418.1V3059.5H2431V3088.1H2608.6V3159.5H2781V3339H2997.6V3339" stroke="#E7B800" stroke-width="5.6" fill="none" stroke-linejoin="round"/>
<path d="M1948.6 2893.8H1994.3V2919H2019V2933.3H2116.7V2950H2211.9V2969H2222.4V2983.3H2240.5V3004.8H2258.6V3035.7H2270.5V3066.7H2310.5V3089.5H2370.5V3113.3H2408.6V3138.1H2434.8V3164.3H2497.6V3189H2534.8V3219H2749V3219V3469V3469H2534.8V3439.5H2497.6V3404.8H2434.8V3381H2408.6V3358.6H2370.5V3335.7H2310.5V3312.9H2270.5V3288.1H2258.6V3235.7H2240.5V3209.5H2222.4V3182.4H2211.9V3152.4H2116.7V3123.8H2019V3100H1994.3V3073.8H1981V3045.2H1978.6V3016.7H1972.9V2985.7H1961.9V2950H1948.6V2893.8H1948.6Z" fill="#2E9FDF" fill-opacity="0.3"/>
<path d="M1966.7 2893.8H2261V2905.7H2361.9V2918.1H2411.9V2931H2418.1V2947.6H2431V2964.3H2781V2892.9H2997.6V2892.9V3475.2V3475.2H2781V3287.1H2608.6V3184.3H2431V3164.3H2418.1V3114.3H2411.9V3089.5H2361.9V3061.9H2270.5V3047.6H2259.5V3031H1978.6V2940.5H1972.9V2911.9H1966.7V2893.8H1966.7Z" fill="#E7B800" fill-opacity="0.3"/>
<path d="M2071 3034.6h18M2080 3025.6v18" stroke="#2E9FDF" stroke-width="3.2" fill="none"/>
<path d="M2087.2 3034.6h18M2096.2 3025.6v18" stroke="#2E9FDF" stroke-width="3.2" fill="none"/>
<path d="M2139.6 3058.4h18M2148.6 3049.4v18" stroke="#2E9FDF" stroke-width="3.2" fill="none"/>
<path d="M2414.8 3287h18M2423.8 3278v18" stroke="#2E9FDF" stroke-width="3.2" fill="none"/>
<path d="M2425.3 3314.1h18M2434.3 3305.1v18" stroke="#2E9FDF" stroke-width="3.2" fill="none"/>
<path d="M2435.3 3314.1h18M2444.3 3305.1v18" stroke="#2E9FDF" stroke-width="3.2" fill="none"/>
<path d="M2568.6 3394.1h18M2577.6 3385.1v18" stroke="#2E9FDF" stroke-width="3.2" fill="none"/>
<path d="M2586.2 3394.1h18M2595.2 3385.1v18" stroke="#2E9FDF" stroke-width="3.2" fill="none"/>
<path d="M1967.2 2925.1h18M1976.2 2916.1v18" stroke="#E7B800" stroke-width="3.2" fill="none"/>
<path d="M2243.4 2964.6h18M2252.4 2955.6v18" stroke="#E7B800" stroke-width="3.2" fill="none"/>
<path d="M2250.5 2964.6h18M2259.5 2955.6v18" stroke="#E7B800" stroke-width="3.2" fill="none"/>
<path d="M2252.9 2982.2h18M2261.9 2973.2v18" stroke="#E7B800" stroke-width="3.2" fill="none"/>
<path d="M2262.4 2982.2h18M2271.4 2973.2v18" stroke="#E7B800" stroke-width="3.2" fill="none"/>
<path d="M2401.5 3008.4h18M2410.5 2999.4v18" stroke="#E7B800" stroke-width="3.2" fill="none"/>
<path d="M2410 3056h18M2419 3047v18" stroke="#E7B800" stroke-width="3.2" fill="none"/>
<path d="M2415.8 3056h18M2424.8 3047v18" stroke="#E7B800" stroke-width="3.2" fill="none"/>
<path d="M2422 3084.6h18M2431 3075.6v18" stroke="#E7B800" stroke-width="3.2" fill="none"/>
<path d="M2426.7 3084.6h18M2435.7 3075.6v18" stroke="#E7B800" stroke-width="3.2" fill="none"/>
<path d="M2432.9 3084.6h18M2441.9 3075.6v18" stroke="#E7B800" stroke-width="3.2" fill="none"/>
<path d="M2557.7 3084.6h18M2566.7 3075.6v18" stroke="#E7B800" stroke-width="3.2" fill="none"/>
<path d="M2570.5 3084.6h18M2579.5 3075.6v18" stroke="#E7B800" stroke-width="3.2" fill="none"/>
<path d="M2583.9 3084.6h18M2592.9 3075.6v18" stroke="#E7B800" stroke-width="3.2" fill="none"/>
<path d="M2593.4 3084.6h18M2602.4 3075.6v18" stroke="#E7B800" stroke-width="3.2" fill="none"/>
<path d="M2596.7 3084.6h18M2605.7 3075.6v18" stroke="#E7B800" stroke-width="3.2" fill="none"/>
<path d="M2743.4 3156h18M2752.4 3147v18" stroke="#E7B800" stroke-width="3.2" fill="none"/>
<path d="M2749.1 3156h18M2758.1 3147v18" stroke="#E7B800" stroke-width="3.2" fill="none"/>
<path d="M2987.7 3335.5h18M2996.7 3326.5v18" stroke="#E7B800" stroke-width="3.2" fill="none"/>
<path d="M1812 2863V3547.6H3051.4" stroke="#000" stroke-width="3" fill="none" stroke-linecap="square"/>
<path d="M1868 3547.6v8M1948.5 3547.6v8M2029 3547.6v8M2109.5 3547.6v8M2190 3547.6v8M2270.5 3547.6v8M2351 3547.6v8M2431.5 3547.6v8M2512 3547.6v8M2592.5 3547.6v8M2673 3547.6v8M2753.5 3547.6v8M2834 3547.6v8M2914.5 3547.6v8M2995 3547.6v8M1812 3517.6h-8.5M1812 3361.4h-8.5M1812 3205.2h-8.5M1812 3049.1h-8.5M1812 2892.9h-8.5" stroke="#000" stroke-width="3" fill="none"/>
<g font-size="33.5" text-anchor="middle">
<text x="1868" y="3588">0</text>
<text x="1948.5" y="3588">1</text>
<text x="2029" y="3588">2</text>
<text x="2109.5" y="3588">3</text>
<text x="2190" y="3588">4</text>
<text x="2270.5" y="3588">5</text>
<text x="2351" y="3588">6</text>
<text x="2431.5" y="3588">7</text>
<text x="2512" y="3588">8</text>
<text x="2592.5" y="3588">9</text>
<text x="2673" y="3588">10</text>
<text x="2753.5" y="3588">11</text>
<text x="2834" y="3588">12</text>
<text x="2914.5" y="3588">13</text>
<text x="2995" y="3588">14</text>
</g>
<g font-size="33.5" text-anchor="end">
<text x="1795.5" y="3529.6">0.00</text>
<text x="1795.5" y="3373.4">0.25</text>
<text x="1795.5" y="3217.2">0.50</text>
<text x="1795.5" y="3061.1">0.75</text>
<text x="1795.5" y="2904.9">1.00</text>
</g>
<rect x="1870.5" y="3195" width="53.3" height="52.6" fill="#2E9FDF" fill-opacity="0.3"/>
<path d="M1875.5 3221.4h43.3" stroke="#2E9FDF" stroke-width="5.6" fill="none"/>
<path d="M1888.2 3217.9h18M1897.2 3208.9v18" stroke="#2E9FDF" stroke-width="2.6" fill="none"/>
<text x="1943.8" y="3233" font-size="32.5">IS_low</text>
<rect x="1871.4" y="3271.4" width="53.4" height="52.4" fill="#E7B800" fill-opacity="0.3"/>
<path d="M1876.4 3297.6h43.4" stroke="#E7B800" stroke-width="5.6" fill="none"/>
<path d="M1889.1 3294.1h18M1898.1 3285.1v18" stroke="#E7B800" stroke-width="2.6" fill="none"/>
<text x="1944.8" y="3309.5" font-size="32.5">IS_high</text>
<text x="1872.9" y="3438" font-size="53" font-family='"Liberation Serif", serif' textLength="451" lengthAdjust="spacingAndGlyphs">HR=0.25 (0.12-0.53)</text>
<text x="1875" y="3491.4" font-size="53" font-family='"Liberation Serif", serif' textLength="177.4" lengthAdjust="spacingAndGlyphs"><tspan font-style="italic">P</tspan>&lt;0.001</text>
<text x="1832.4" y="2841.4" font-size="45" textLength="239" lengthAdjust="spacingAndGlyphs" stroke="#000" stroke-width="0.9" stroke-linejoin="round">PD-L1&lt;50%</text>
<text x="2434" y="3634" font-size="39.5" text-anchor="middle" textLength="246.5" lengthAdjust="spacingAndGlyphs">Time(months)</text>
<text x="1776" y="3710" font-size="50" textLength="317.8" lengthAdjust="spacingAndGlyphs" stroke="#000" stroke-width="1.6" stroke-linejoin="round">Number at risk</text>
<path d="M1812 3739V3860.5H3051.4" stroke="#000" stroke-width="3" fill="none" stroke-linecap="square"/>
<path d="M1868 3860.5v8M1948.5 3860.5v8M2029 3860.5v8M2109.5 3860.5v8M2190 3860.5v8M2270.5 3860.5v8M2351 3860.5v8M2431.5 3860.5v8M2512 3860.5v8M2592.5 3860.5v8M2673 3860.5v8M2753.5 3860.5v8M2834 3860.5v8M2914.5 3860.5v8M2995 3860.5v8M1812 3772h-8.5M1812 3827h-8.5" stroke="#000" stroke-width="3" fill="none"/>
<text x="1784.8" y="3782.8" font-size="33" text-anchor="end" fill="#2E9FDF">IS_low</text>
<text x="1784.8" y="3838.5" font-size="33" text-anchor="end" fill="#E7B800">IS_high</text>
<g font-size="35.5" text-anchor="middle">
<text x="1868" y="3783.8">30</text>
<text x="1948.5" y="3783.8">30</text>
<text x="2029" y="3783.8">23</text>
<text x="2109.5" y="3783.8">20</text>
<text x="2190" y="3783.8">18</text>
<text x="2270.5" y="3783.8">12</text>
<text x="2351" y="3783.8">11</text>
<text x="2431.5" y="3783.8">8</text>
<text x="2512" y="3783.8">4</text>
<text x="2592.5" y="3783.8">2</text>
<text x="2673" y="3783.8">1</text>
<text x="2753.5" y="3783.8">0</text>
<text x="2834" y="3783.8">0</text>
<text x="2914.5" y="3783.8">0</text>
<text x="2995" y="3783.8">0</text>
<text x="1868" y="3839.5">34</text>
<text x="1948.5" y="3839.5">34</text>
<text x="2029" y="3839.5">29</text>
<text x="2109.5" y="3839.5">29</text>
<text x="2190" y="3839.5">29</text>
<text x="2270.5" y="3839.5">24</text>
<text x="2351" y="3839.5">23</text>
<text x="2431.5" y="3839.5">14</text>
<text x="2512" y="3839.5">12</text>
<text x="2592.5" y="3839.5">10</text>
<text x="2673" y="3839.5">5</text>
<text x="2753.5" y="3839.5">4</text>
<text x="2834" y="3839.5">1</text>
<text x="2914.5" y="3839.5">1</text>
<text x="2995" y="3839.5">1</text>
</g>
<g font-size="33.5" text-anchor="middle">
<text x="1868" y="3900.5">0</text>
<text x="1948.5" y="3900.5">1</text>
<text x="2029" y="3900.5">2</text>
<text x="2109.5" y="3900.5">3</text>
<text x="2190" y="3900.5">4</text>
<text x="2270.5" y="3900.5">5</text>
<text x="2351" y="3900.5">6</text>
<text x="2431.5" y="3900.5">7</text>
<text x="2512" y="3900.5">8</text>
<text x="2592.5" y="3900.5">9</text>
<text x="2673" y="3900.5">10</text>
<text x="2753.5" y="3900.5">11</text>
<text x="2834" y="3900.5">12</text>
<text x="2914.5" y="3900.5">13</text>
<text x="2995" y="3900.5">14</text>
</g>
<path d="M160.5 1588.5V2599.8H3065.5" stroke="#000" stroke-width="5.8" fill="none" stroke-linejoin="miter"/>
<path d="M160.5 1558.5L173.5 1610.5L160.5 1598.5L147.5 1610.5Z" fill="#000"/>
<path d="M3095.5 2599.8L3043.5 2586.8L3055.5 2599.8L3043.5 2612.8Z" fill="#000"/>
<path d="M153.5 2872V3970H3048.2" stroke="#000" stroke-width="5.8" fill="none" stroke-linejoin="miter"/>
<path d="M153.5 2842L166.5 2894L153.5 2882L140.5 2894Z" fill="#000"/>
<path d="M3078.2 3970L3026.2 3957L3038.2 3970L3026.2 3983Z" fill="#000"/>
<text x="107.8" y="1973.8" font-size="54" text-anchor="middle" textLength="390" lengthAdjust="spacingAndGlyphs" transform="rotate(-90 107.8 1973.8)" stroke="#000" stroke-width="1.2" stroke-linejoin="round">PFS (proportion)</text>
<text x="103.8" y="3317.5" font-size="54" text-anchor="middle" textLength="393" lengthAdjust="spacingAndGlyphs" transform="rotate(-90 103.8 3317.5)" stroke="#000" stroke-width="1.2" stroke-linejoin="round">PFS (proportion)</text>
<text x="1455.4" y="2660.7" font-size="54" textLength="350" lengthAdjust="spacingAndGlyphs" stroke="#000" stroke-width="1.6" stroke-linejoin="round">Time (months)</text>
<text x="1460" y="4041" font-size="54" textLength="351" lengthAdjust="spacingAndGlyphs" stroke="#000" stroke-width="1.6" stroke-linejoin="round">Time (months)</text>
</svg>
</body></html>
